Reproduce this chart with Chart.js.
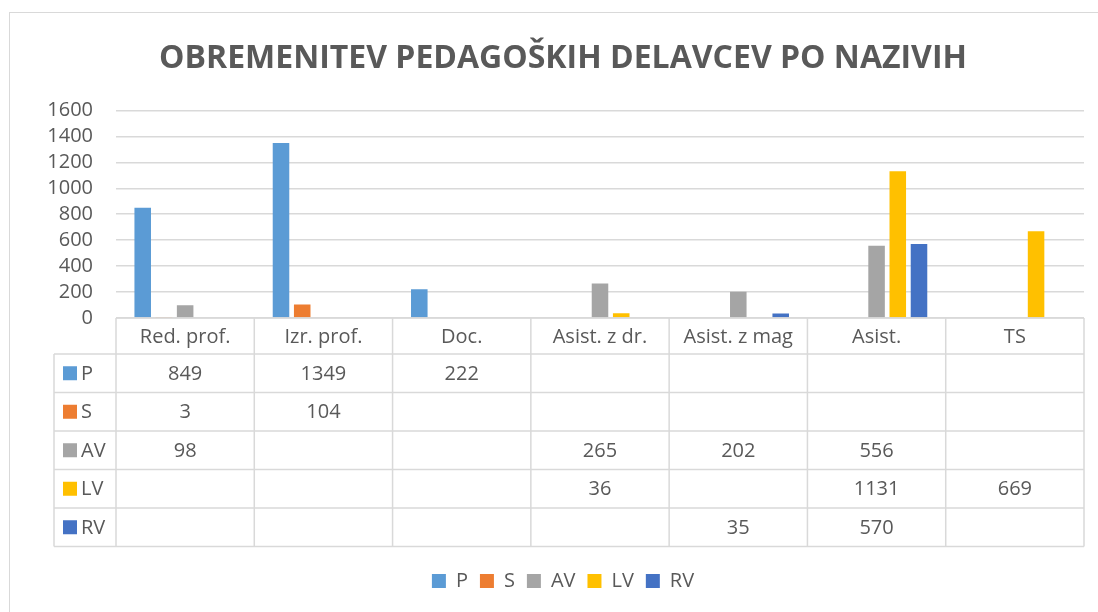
<!DOCTYPE html>
<html>
<head>
<meta charset="utf-8">
<script src="https://cdn.jsdelivr.net/npm/chart.js@4.4.1/dist/chart.umd.min.js"></script>
<style>
  html, body { margin: 0; padding: 0; background: #fff; overflow: hidden; }
  #frame { position: absolute; left: 9px; top: 12px; width: 1100px; height: 620px;
           border: 1px solid #d9d9d9; pointer-events: none; }
  canvas { position: absolute; left: 0; top: 0; }
</style>
</head>
<body>
<canvas id="chart" width="1098" height="612"></canvas>
<div id="frame"></div>
<script>
// Podatki
const nazivi = ['Red. prof.', 'Izr. prof.', 'Doc.', 'Asist. z dr.', 'Asist. z mag', 'Asist.', 'TS'];
const serije = ['P', 'S', 'AV', 'LV', 'RV'];
const vrednostiP  = [849, 1349, 222, null, null, null, null];
const vrednostiS  = [3, 104, null, null, null, null, null];
const vrednostiAV = [98, null, null, 265, 202, 556, null];
const vrednostiLV = [null, null, null, 36, null, 1131, 669];
const vrednostiRV = [null, null, null, null, 35, 570, null];
const barve = ['#5B9BD5', '#ED7D31', '#A5A5A5', '#FFC000', '#4472C4'];

const FONT = '"Open Sans", "Liberation Sans", sans-serif';
const SIVA = '#595959';
const CRTE = '#d9d9d9';
const HEAD_H = 36;
const ROW_H = 38.5;
const LEFT_COL = 54;

// tabela s podatki pod grafom (kot v Excelu)
const dataTable = {
  id: 'dataTable',
  afterDraw(chart) {
    const { ctx, chartArea, scales } = chart;
    const x = scales.x;
    const n = nazivi.length;
    const w = (x.right - x.left) / n;
    const top = chartArea.bottom;
    const bottom = top + HEAD_H + ROW_H * serije.length;

    ctx.save();
    ctx.strokeStyle = CRTE;
    ctx.lineWidth = 1.5;
    ctx.beginPath();
    // vodoravne crte
    ctx.moveTo(x.left, top); ctx.lineTo(x.right, top);
    for (let r = 0; r <= serije.length; r++) {
      const y = top + HEAD_H + r * ROW_H;
      ctx.moveTo(LEFT_COL, y); ctx.lineTo(x.right, y);
    }
    // navpicne crte
    for (let i = 0; i <= n; i++) {
      const xx = x.left + i * w;
      ctx.moveTo(xx, top); ctx.lineTo(xx, bottom);
    }
    ctx.moveTo(LEFT_COL, top + HEAD_H); ctx.lineTo(LEFT_COL, bottom);
    ctx.stroke();

    ctx.fillStyle = SIVA;
    ctx.font = '20px ' + FONT;
    ctx.textBaseline = 'middle';
    ctx.textAlign = 'center';
    nazivi.forEach((lab, i) => {
      ctx.fillText(lab, x.getPixelForTick(i), top + HEAD_H / 2 + 1);
    });

    chart.data.datasets.forEach((ds, r) => {
      const cy = top + HEAD_H + r * ROW_H + ROW_H / 2 + 1;
      ctx.fillStyle = ds.backgroundColor;
      ctx.fillRect(63, cy - 8, 14, 14);
      ctx.fillStyle = SIVA;
      ctx.textAlign = 'left';
      ctx.fillText(ds.label, 81, cy);
      ctx.textAlign = 'center';
      ds.data.forEach((v, i) => {
        if (v !== null) ctx.fillText(String(v), x.getPixelForTick(i), cy);
      });
    });
    ctx.restore();
  }
};

const seriesData = [vrednostiP, vrednostiS, vrednostiAV, vrednostiLV, vrednostiRV];

new Chart(document.getElementById('chart'), {
  type: 'bar',
  data: {
    labels: nazivi,
    datasets: serije.map((s, i) => ({
      label: s,
      data: seriesData[i],
      backgroundColor: barve[i],
      borderWidth: 0,
      categoryPercentage: 0.767,
      barPercentage: 0.78,
    })),
  },
  options: {
    responsive: false,
    animation: false,
    layout: { padding: { left: 28, right: 0, top: 0, bottom: 11 } },
    plugins: {
      title: {
        display: true,
        text: 'OBREMENITEV PEDAGOŠKIH DELAVCEV PO NAZIVIH',
        color: SIVA,
        font: { family: FONT, size: 32, weight: 'bold' },
        padding: { top: 40, bottom: 32 },
      },
      legend: {
        position: 'bottom',
        labels: {
          color: SIVA,
          font: { family: FONT, size: 20 },
          boxWidth: 14,
          boxHeight: 14,
          padding: 12,
        },
      },
      tooltip: { enabled: false },
    },
    scales: {
      x: {
        grid: { display: false },
        border: { display: false },
        ticks: { display: false },
        afterFit(s) { s.height = 241; },
      },
      y: {
        min: 0,
        max: 1600,
        ticks: {
          stepSize: 200,
          autoSkip: false,
          color: SIVA,
          font: { family: FONT, size: 20 },
          padding: 23,
          callback: v => String(v),
        },
        grid: { color: CRTE, lineWidth: 1.5, drawTicks: false },
        border: { display: false },
        afterFit(s) { s.width = 88; },
      },
      y2: {
        position: 'right',
        min: 0,
        max: 1600,
        ticks: { display: false },
        grid: { display: false },
        border: { display: false },
        afterFit(s) { s.width = 14; },
      },
    },
  },
  plugins: [dataTable],
});
</script>
</body>
</html>
